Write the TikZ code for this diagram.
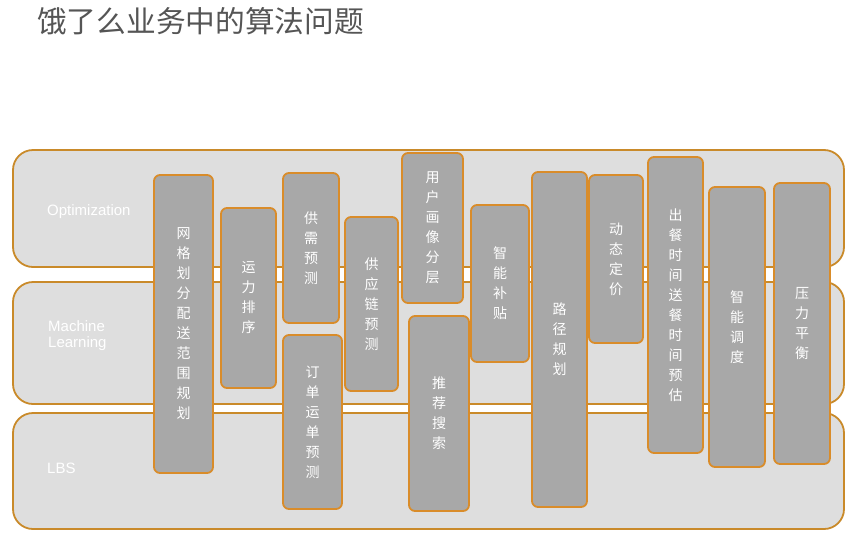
\documentclass[tikz,border=0pt]{standalone}
\usepackage{fontspec}
\setmainfont{Liberation Sans}
\newfontfamily\cjk{Noto Sans CJK SC}
\definecolor{bandfill}{HTML}{DEDEDE}
\definecolor{bandline}{HTML}{C98A2A}
\definecolor{boxfill}{HTML}{A8A8A8}
\definecolor{boxline}{HTML}{D98C2A}
\definecolor{titlegray}{HTML}{555555}
\tikzset{
  band/.style={draw=bandline, line width=1.8pt, fill=bandfill, rounded corners=20pt},
  colbox/.style={draw=boxline, line width=1.8pt, fill=boxfill, rounded corners=6pt,
    inner sep=0pt, text=white, align=center,
    font=\cjk\fontsize{14}{20}\selectfont},
  bandlabel/.style={text=white, anchor=west, align=left, inner sep=0pt,
    font=\fontsize{15}{16}\selectfont}
}
\begin{document}
\begin{tikzpicture}[x=1pt,y=-1pt]
\useasboundingbox (0,0) rectangle (856,552);
% title
\node[anchor=west, inner sep=0pt, text=titlegray, font=\cjk\fontsize{29.7}{32}\selectfont] (title) at (37,21) {饿了么业务中的算法问题};
% bands
\draw[band] (13,150) rectangle (844,267);
\draw[band] (13,282) rectangle (844,404);
\draw[band] (13,413) rectangle (844,529);
\node[bandlabel] (opt) at (47,212) {Optimization};
\node[bandlabel] (ml) at (48,336) {Machine\\Learning};
\node[bandlabel] (lbs) at (47,468) {LBS};
% columns
\node[colbox, minimum width=59pt, minimum height=298pt] (c1) at (183.5,324) {网\\格\\划\\分\\配\\送\\范\\围\\规\\划};
\node[colbox, minimum width=55pt, minimum height=180pt] (c2) at (248.5,298) {运\\力\\排\\序};
\node[colbox, minimum width=56pt, minimum height=150pt] (c3) at (311,248) {供\\需\\预\\测};
\node[colbox, minimum width=59pt, minimum height=174pt] (c4) at (312.5,422) {订\\单\\运\\单\\预\\测};
\node[colbox, minimum width=53pt, minimum height=174pt] (c5) at (371.5,304) {供\\应\\链\\预\\测};
\node[colbox, minimum width=61pt, minimum height=150pt] (c6) at (432.5,228) {用\\户\\画\\像\\分\\层};
\node[colbox, minimum width=60pt, minimum height=195pt] (c7) at (439,413.5) {推\\荐\\搜\\索};
\node[colbox, minimum width=58pt, minimum height=157pt] (c8) at (500,283.5) {智\\能\\补\\贴};
\node[colbox, minimum width=55pt, minimum height=335pt] (c9) at (559.5,339.5) {路\\径\\规\\划};
\node[colbox, minimum width=54pt, minimum height=168pt] (c10) at (616,259) {动\\态\\定\\价};
\node[colbox, minimum width=55pt, minimum height=296pt] (c11) at (675.5,305) {出\\餐\\时\\间\\送\\餐\\时\\间\\预\\估};
\node[colbox, minimum width=56pt, minimum height=280pt] (c12) at (737,327) {智\\能\\调\\度};
\node[colbox, minimum width=56pt, minimum height=281pt] (c13) at (802,323.5) {压\\力\\平\\衡};
\end{tikzpicture}
\end{document}
